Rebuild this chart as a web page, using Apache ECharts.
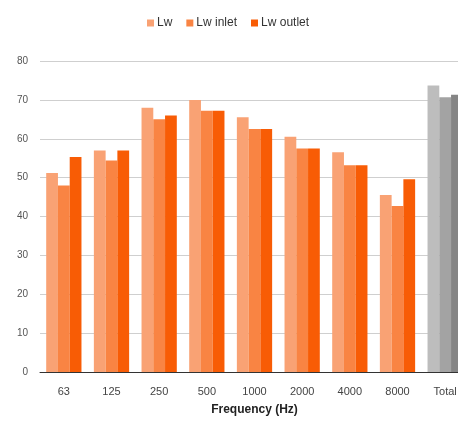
<!DOCTYPE html>
<html>
<head>
<meta charset="utf-8">
<script src="https://cdn.jsdelivr.net/npm/echarts@6/dist/echarts.min.js"></script>
<style>
  html, body { margin: 0; padding: 0; background: #fff; overflow: hidden; width: 458px; height: 421px; }
  /* the plot runs past the right edge of the window; the last group is cut off */
  #chart { width: 470px; height: 421px; }
</style>
</head>
<body>
<div id="chart"></div>
<script>
// Sound power levels per octave band, plus overall totals
const categories = ['63', '125', '250', '500', '1000', '2000', '4000', '8000', 'Total'];
const lw       = [51.2, 57.0, 68.0, 70.0, 65.5, 60.5, 56.5, 45.5, 73.7];
const lwInlet  = [48.0, 54.4, 65.0, 67.2, 62.5, 57.5, 53.2, 42.7, 70.7];
const lwOutlet = [55.3, 57.0, 66.0, 67.2, 62.5, 57.5, 53.2, 49.6, 71.3];
const yTicks = { min: 0, max: 80, interval: 10 };

const colors = ['#F9A274', '#F98443', '#F85C05'];
const totalColors = ['#BDBDBD', '#A3A3A3', '#858585'];

function withTotal(values, idx) {
  return values.map((v, i) => i === categories.length - 1
    ? { value: v, itemStyle: { color: totalColors[idx] } }
    : v);
}

const chart = echarts.init(document.getElementById('chart'), null, { renderer: 'canvas' });
chart.setOption({
  animation: false,
  textStyle: { fontFamily: 'Liberation Sans, Arial, sans-serif' },
  legend: {
    top: 12,
    left: 142,
    itemWidth: 7,
    itemHeight: 7,
    itemGap: 14,
    icon: 'rect',
    textStyle: { fontSize: 12, color: '#333', padding: [0, 0, 0, -2] },
    data: ['Lw', 'Lw inlet', 'Lw outlet']
  },
  grid: { left: 40, right: 1, top: 61, bottom: 48, containLabel: false },
  xAxis: {
    type: 'category',
    data: categories,
    axisLine: { lineStyle: { color: '#333', width: 1 } },
    axisTick: { show: false },
    axisLabel: { fontSize: 11, color: '#444', margin: 14 },
    name: 'Frequency (Hz)',
    nameLocation: 'middle',
    nameGap: 32,
    nameTextStyle: { fontSize: 12, fontWeight: 'bold', color: '#222' }
  },
  yAxis: {
    type: 'value',
    min: yTicks.min,
    max: yTicks.max,
    interval: yTicks.interval,
    axisLine: { show: false },
    axisTick: { show: false },
    axisLabel: { fontSize: 10, color: '#555', margin: 12 },
    splitLine: { lineStyle: { color: '#cfcfcf', width: 1 } }
  },
  series: [
    { name: 'Lw', type: 'bar', data: withTotal(lw, 0), itemStyle: { color: colors[0] }, barGap: '0%', barCategoryGap: '26%' },
    { name: 'Lw inlet', type: 'bar', data: withTotal(lwInlet, 1), itemStyle: { color: colors[1] }, barGap: '0%', barCategoryGap: '26%' },
    { name: 'Lw outlet', type: 'bar', data: withTotal(lwOutlet, 2), itemStyle: { color: colors[2] }, barGap: '0%', barCategoryGap: '26%' }
  ]
});
</script>
</body>
</html>
